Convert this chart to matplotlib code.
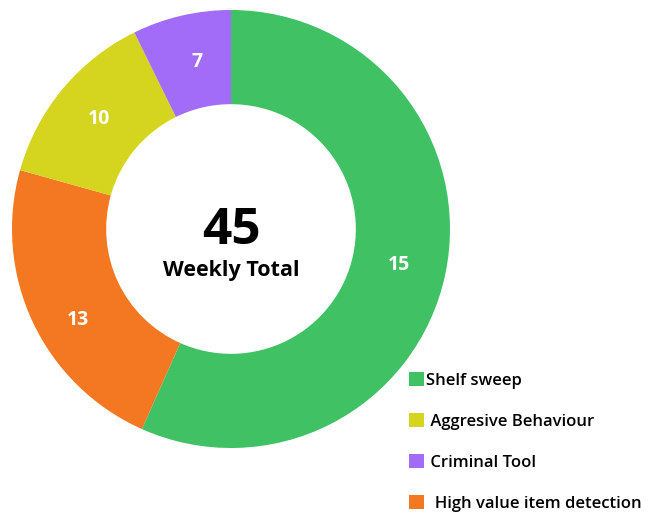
"""
Weekly total of detections by type, shown as a donut
"""
import matplotlib
matplotlib.use("Agg")
import numpy as np
import matplotlib.pyplot as plt

# categories in drawing order (clockwise from the top)
categories = ["Shelf sweep", "High value item detection",
              "Aggresive Behaviour", "Criminal Tool"]
# numbers printed on the ring
counts = [15, 13, 10, 7]
# size of each slice as drawn in the picture (degrees of the ring)
slice_sizes = [204, 81.6, 48.2, 26.2]
colors = ["#40c164", "#f47721", "#d5d520", "#a26bf8"]

# legend order and text as it appears on the picture
legend_order = [0, 2, 3, 1]
legend_text = ["Shelf sweep", " Aggresive Behaviour", " Criminal Tool",
               "  High value item detection"]

# small hand tweaks of where the ring labels sit (degrees, radius)
label_nudge = [0, 5.5, 0, -1.5]
label_radius = [0.785, 0.81, 0.785, 0.78]

plt.rcParams['font.family'] = ['Open Sans', 'DejaVu Sans']


def donut():
    fig = plt.figure(figsize=(6.49, 5.13), dpi=100)
    ax = fig.add_axes([12 / 649, 65 / 513, 438 / 649, 438 / 513])

    wedges, _ = ax.pie(slice_sizes, colors=colors, startangle=90,
                       counterclock=False, radius=1,
                       wedgeprops=dict(width=0.43, linewidth=0))

    # value labels in the middle of the ring
    total = sum(slice_sizes)
    start = 90.0
    for size, count, nudge, rad in zip(slice_sizes, counts,
                                       label_nudge, label_radius):
        mid = np.deg2rad(start - size * 360 / total / 2 + nudge)
        start -= size * 360 / total
        ax.text(rad * np.cos(mid), rad * np.sin(mid), str(count),
                ha="center", va="center", color="white",
                fontsize=14, fontweight="bold")

    ax.text(0, -0.01, str(sum(counts)), ha="center", va="center",
            fontsize=37, fontweight="bold", color="black")
    ax.text(0, -0.19, "Weekly Total", ha="center", va="center",
            fontsize=15.5, fontweight="bold", color="black")
    ax.set_xlim(-1, 1)
    ax.set_ylim(-1, 1)

    fig.legend([wedges[i] for i in legend_order], legend_text,
               loc="upper left", bbox_to_anchor=(394 / 649, 1 - 357 / 513),
               frameon=False, handlelength=0.9,
               handleheight=0.9, handletextpad=0.15, labelspacing=1.46,
               prop=dict(weight="semibold", size=12))

    fig.savefig("out.png", dpi=100)


if __name__ == '__main__':
    donut()
